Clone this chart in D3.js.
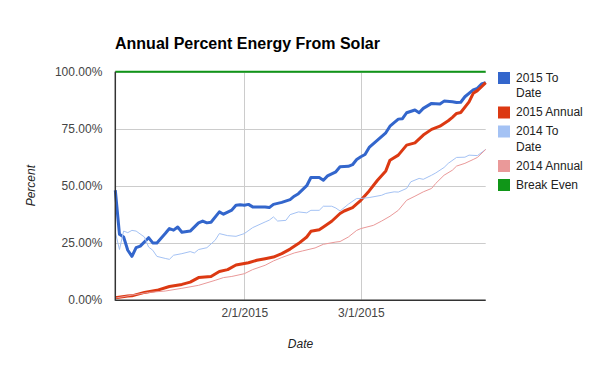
<!DOCTYPE html>
<html>
<head>
<meta charset="utf-8">
<script src="https://cdn.jsdelivr.net/npm/d3@7"></script>
<style>
  body { margin: 0; background: #fff; }
  svg { font-family: Arial, "Liberation Sans", sans-serif; }
</style>
</head>
<body>
<div id="chart"></div>
<script>
// day offset from 1/1/2015, percent
const toDate2015 = [[0,48],[1,28.7],[2,27.5],[3,21.7],[4,19],[5,22.8],[6,23.5],[8,27.2],[9,24.9],[10,24.9],
  [12,29],[13,31.2],[14,30.5],[15,31.9],[16,29.6],[18,30.1],[20,33.7],[21,34.5],[22,33.7],[23,34],
  [25,38.5],[26,37.5],[28,39.3],[29,41.4],[30,41.6],[31,41.4],[32,41.8],[33,40.7],[36,40.7],[37,40.4],
  [38,41.8],[40,42.7],[42,43.9],[43,45.4],[44,46.5],[46,50],[47,53.6],[49,53.6],[50,52.4],[51,54.3],
  [53,56.1],[54,58.3],[56,58.5],[57,59.2],[58,61.5],[59,62.7],[60,63.7],[61,66.8],[63,70],[65,73.2],
  [66,76.1],[68,79.2],[69,79.4],[70,82],[72,83.2],[73,82],[74,83.9],[76,86.1],[78,85.8],[79,87.1],
  [81,86.8],[82,86.5],[83,86.6],[84,89],[86,92],[87,92.7],[88,94.6],[89,95.2]]
const annual2015 = [[0,0.9],[3,1.6],[4,1.7],[7,3.2],[10,4.1],[13,5.8],[16,6.7],[18,7.7],[20,9.7],[23,10.2],
  [25,12.4],[27,13.2],[29,15.2],[32,16.2],[34,17.3],[36,18],[38,18.7],[40,20.2],[42,22.2],[44,24.6],
  [46,27.5],[47,30],[49,30.7],[50,31.9],[52,34.4],[54,37.8],[55,38.9],[57,40.4],[59,43.6],[61,47.7],
  [63,52.4],[65,56.5],[66,61.2],[68,63.4],[69,65.6],[70,67.8],[72,68.8],[74,72.2],[76,74.7],[78,76.1],
  [80,78.5],[81,80],[82,81.7],[83,82.1],[85,86.8],[86,90.5],[87,91.7],[88,93.4],[89,95.2]]
const toDate2014 = [[0,29.7],[1,22],[2,30.1],[3,29.4],[4,30.4],[5,30.1],[7,27.5],[8,23.1],[9,21.7],[10,19],
  [12,18.1],[13,17.7],[14,19.5],[16,20.2],[18,21.1],[19,20.5],[20,22],[22,22.8],[24,26.1],[25,29],
  [27,28.1],[29,27.8],[31,29],[33,31.6],[36,34.1],[37,34.9],[38,36.3],[39,34.5],[41,34.8],[42,37.3],
  [44,38.5],[46,38.1],[47,39.2],[49,39.2],[50,41],[52,41],[53,40.2],[54,38.9],[56,41.9],[58,44.4],
  [59,44.4],[61,44.8],[64,45.8],[65,46.6],[67,47.3],[68,47.2],[70,48.8],[71,51.7],[73,53.2],[74,52.8],
  [76,54.6],[77,55.6],[79,58],[80,59.8],[82,62.4],[84,62.5],[85,63.4],[87,63.2],[89,65.9]]
const annual2014 = [[0,0.7],[4,2],[8,3.2],[12,3.8],[16,5],[20,6.3],[24,8.5],[26,9.7],[28,10.2],[31,11.4],
  [33,13.2],[36,15.1],[38,17],[40,18.5],[43,20.5],[45,21.4],[48,22.7],[50,24.3],[53,25.3],[54,25.5],
  [56,27.5],[58,30.4],[59,31.2],[62,32.6],[64,34.5],[66,36.6],[68,39.2],[70,43.6],[72,45.4],[74,47.3],
  [76,48.8],[77,51],[79,54.6],[81,56.8],[82,58.6],[84,59.8],[86,61.5],[87,62.4],[89,65.9]]
const breakEven = [[0,100],[89,100]]

const seriesNames = ["2015 To Date", "2015 Annual", "2014 To Date", "2014 Annual", "Break Even"]
const seriesColors = ["#3366cc", "#dc3912", "#a4c2f4", "#ea9999", "#109618"]
const yTicks = [0, 25, 50, 75, 100]
const xTicks = ["2015-02-01", "2015-03-01"]

const width = 600, height = 371
const margin = { top: 71.7, right: 114.3, bottom: 71.7, left: 115.3 }

const start = Date.UTC(2015, 0, 1)
const toDate = d => new Date(start + d * 864e5)

const svg = d3.select("#chart").append("svg")
  .attr("width", width).attr("height", height)

const x = d3.scaleUtc()
  .domain([toDate(0), toDate(89)])
  .range([margin.left, width - margin.right])

const y = d3.scaleLinear()
  .domain([0, 100])
  .range([height - margin.bottom + 0.4, margin.top])

// gridlines
svg.append("g").selectAll("line.h").data(yTicks).join("line")
  .attr("x1", margin.left).attr("x2", width - margin.right)
  .attr("y1", d => Math.round(y(d)) + 0.5).attr("y2", d => Math.round(y(d)) + 0.5)
  .attr("stroke", "#cccccc")
svg.append("g").selectAll("line.v").data(xTicks).join("line")
  .attr("x1", d => Math.round(x(new Date(d + "T00:00:00Z"))) + 0.5)
  .attr("x2", d => Math.round(x(new Date(d + "T00:00:00Z"))) + 0.5)
  .attr("y1", margin.top).attr("y2", y(0))
  .attr("stroke", "#cccccc")

// axes
const yAxis = d3.axisLeft(y).tickValues(yTicks).tickSize(0).tickPadding(13)
  .tickFormat(d => d.toFixed(2) + "%")
svg.append("g").attr("transform", `translate(${margin.left},0)`).call(yAxis)
  .call(g => g.select(".domain").remove())
  .call(g => g.selectAll("text").attr("font-size", 12).attr("fill", "#444").attr("font-family", null))

const xAxis = d3.axisBottom(x).tickValues(xTicks.map(d => new Date(d + "T00:00:00Z")))
  .tickSize(0).tickPadding(9).tickFormat(d3.utcFormat("%-m/%-d/%Y"))
svg.append("g").attr("transform", `translate(0,${y(0)})`).call(xAxis)
  .call(g => g.select(".domain").remove())
  .call(g => g.selectAll("text").attr("font-size", 12).attr("fill", "#444").attr("font-family", null))

// lines
const line = d3.line().x(d => x(toDate(d[0]))).y(d => y(d[1]))
const allSeries = [toDate2015, annual2015, toDate2014, annual2014, breakEven]
const widths = [3, 3, 1, 1, 2]
allSeries.forEach((s, i) => {
  svg.append("path").datum(s)
    .attr("d", line)
    .attr("fill", "none")
    .attr("stroke", seriesColors[i])
    .attr("stroke-width", widths[i])
    .attr("stroke-linejoin", "round")
})

// axis baselines
svg.append("line").attr("x1", margin.left).attr("x2", margin.left)
  .attr("y1", margin.top).attr("y2", y(0) + 1).attr("stroke", "#333").attr("stroke-width", 1.5)
svg.append("line").attr("x1", margin.left).attr("x2", width - margin.right)
  .attr("y1", y(0) + 0.5).attr("y2", y(0) + 0.5).attr("stroke", "#333").attr("stroke-width", 1.5)

// title
svg.append("text").attr("x", 115).attr("y", 49)
  .attr("font-size", 16).attr("font-weight", "bold").attr("fill", "#000")
  .text("Annual Percent Energy From Solar")

// axis titles
svg.append("text").attr("x", (margin.left + width - margin.right) / 2).attr("y", 348)
  .attr("text-anchor", "middle").attr("font-size", 12).attr("font-style", "italic").attr("fill", "#222")
  .text("Date")
svg.append("text").attr("transform", `translate(35,${(margin.top + y(0)) / 2}) rotate(-90)`)
  .attr("text-anchor", "middle").attr("font-size", 12).attr("font-style", "italic").attr("fill", "#222")
  .text("Percent")

// legend
const legend = svg.append("g")
let ly = 72
seriesNames.forEach((name, i) => {
  legend.append("rect").attr("x", 498).attr("y", ly).attr("width", 12).attr("height", 12)
    .attr("fill", seriesColors[i])
  const t = legend.append("text").attr("x", 516).attr("y", ly + 9.5)
    .attr("font-size", 12).attr("fill", "#222")
  // simple word wrap
  const words = name.split(" ")
  let lines = [], cur = ""
  words.forEach(w => {
    const test = cur ? cur + " " + w : w
    t.text(test)
    if (cur && t.node().getComputedTextLength() > 70) { lines.push(cur); cur = w }
    else cur = test
  })
  lines.push(cur)
  t.text(null)
  lines.forEach((l, k) => t.append("tspan").attr("x", 516).attr("dy", k ? 15.5 : 0).text(l))
  ly += 19 + (lines.length - 1) * 15.5
})
</script>
</body>
</html>
